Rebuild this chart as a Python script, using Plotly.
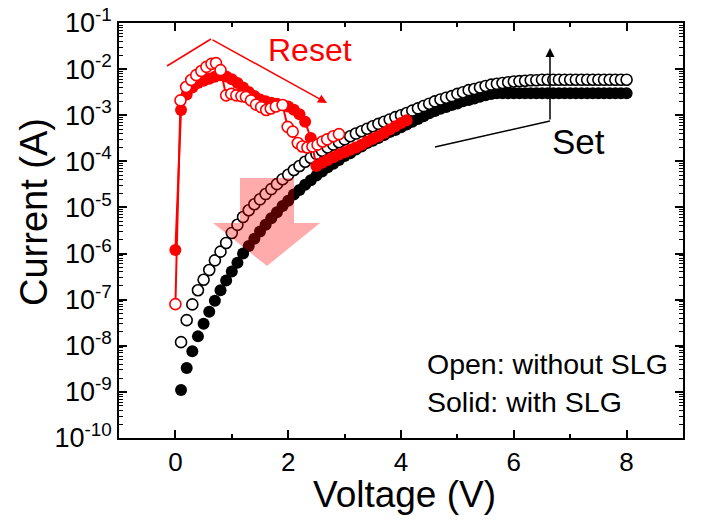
import plotly.graph_objects as go

# ---------------- data ----------------
# with SLG (solid black): set sweep
v_solid_black = [round(0.1 * i, 1) for i in range(1, 81)]
i_solid_black = [
    1.1e-9, 3.3e-9, 7.6e-9, 1.6e-8, 3.0e-8, 5.5e-8, 9.5e-8, 1.6e-7, 2.6e-7, 4.1e-7,
    6.3e-7, 1.0e-6, 1.45e-6, 2.1e-6, 3.0e-6, 4.2e-6, 5.8e-6, 7.9e-6, 1.07e-5, 1.4e-5,
    1.9e-5, 2.4e-5, 3.1e-5, 3.9e-5, 4.9e-5, 6.0e-5, 7.4e-5, 8.9e-5, 1.07e-4, 1.3e-4,
    1.5e-4, 1.8e-4, 2.1e-4, 2.5e-4, 2.8e-4, 3.2e-4, 3.7e-4, 4.3e-4, 4.8e-4, 5.5e-4,
    6.3e-4, 7.2e-4, 8.3e-4, 9.5e-4, 1.1e-3, 1.23e-3, 1.38e-3, 1.5e-3, 1.66e-3, 1.8e-3,
    2.0e-3, 2.14e-3, 2.3e-3, 2.5e-3, 2.7e-3, 2.9e-3, 3.0e-3, 3.0e-3, 3.0e-3, 3.0e-3,
    3.0e-3, 3.0e-3, 3.0e-3, 3.0e-3, 3.0e-3, 3.0e-3, 3.0e-3, 3.0e-3, 3.0e-3, 3.0e-3,
    3.0e-3, 3.0e-3, 3.0e-3, 3.0e-3, 3.0e-3, 3.0e-3, 3.0e-3, 3.0e-3, 3.0e-3, 3.0e-3,
]

# without SLG (open black): set sweep
v_open_black = [round(0.1 * i, 1) for i in range(1, 81)]
i_open_black = [
    1.2e-8, 3.6e-8, 7.9e-8, 1.6e-7, 2.7e-7, 4.4e-7, 7.1e-7, 1.1e-6, 1.7e-6, 2.8e-6,
    4.2e-6, 6.2e-6, 8.7e-6, 1.17e-5, 1.5e-5, 1.95e-5, 2.5e-5, 3.2e-5, 4.1e-5, 5.1e-5,
    6.5e-5, 7.9e-5, 9.8e-5, 1.2e-4, 1.45e-4, 1.7e-4, 2.0e-4, 2.3e-4, 2.6e-4, 3.0e-4,
    3.5e-4, 4.0e-4, 4.5e-4, 5.1e-4, 5.75e-4, 6.5e-4, 7.2e-4, 8.1e-4, 9.1e-4, 1.0e-3,
    1.12e-3, 1.26e-3, 1.41e-3, 1.58e-3, 1.78e-3, 2.0e-3, 2.2e-3, 2.4e-3, 2.6e-3, 2.9e-3,
    3.16e-3, 3.5e-3, 3.7e-3, 4.0e-3, 4.3e-3, 4.6e-3, 4.8e-3, 5.0e-3, 5.2e-3, 5.4e-3,
    5.5e-3, 5.6e-3, 5.75e-3, 5.75e-3, 5.9e-3, 5.9e-3, 5.9e-3, 5.9e-3, 5.9e-3, 5.9e-3,
    5.9e-3, 5.9e-3, 5.9e-3, 5.9e-3, 5.9e-3, 5.9e-3, 5.9e-3, 5.9e-3, 5.9e-3, 5.9e-3,
]

# with SLG (solid red): reset sweep
v_solid_red = [0.0, 0.1, 0.2, 0.3, 0.4, 0.5, 0.6, 0.7, 0.8, 0.9, 1.0, 1.1, 1.2, 1.3,
               1.4, 1.5, 1.6, 1.7, 1.8, 1.9, 2.0, 2.1, 2.2, 2.3, 2.4, 2.5, 2.6, 2.7,
               2.8, 2.9, 3.0, 3.1, 3.2, 3.3, 3.4, 3.5, 3.6, 3.7, 3.8, 3.9, 4.0, 4.1]
i_solid_red = [1.2e-6, 1.3e-3, 2.8e-3, 4.0e-3, 5.0e-3, 5.6e-3, 6.2e-3, 6.8e-3, 7.4e-3,
               6.9e-3, 6.0e-3, 5.0e-3, 4.0e-3, 3.2e-3, 2.6e-3, 2.2e-3, 2.0e-3, 1.86e-3,
               1.78e-3, 1.66e-3, 1.55e-3, 1.32e-3, 1.05e-3, 7.2e-4, 3.2e-4, 7.9e-5,
               9.3e-5, 1.07e-4, 1.23e-4, 1.41e-4, 1.58e-4, 1.78e-4, 2.0e-4, 2.3e-4,
               2.7e-4, 3.1e-4, 3.5e-4, 4.1e-4, 4.9e-4, 5.75e-4, 6.8e-4, 7.8e-4]

# without SLG (open red): reset sweep
v_open_red = [0.0, 0.09, 0.19, 0.28, 0.37, 0.46, 0.55, 0.64, 0.72, 0.80, 0.90, 0.99,
              1.08, 1.17, 1.25, 1.34, 1.43, 1.52, 1.61, 1.69, 1.78, 1.90, 1.99, 2.08,
              2.17, 2.25, 2.34, 2.43, 2.52, 2.61, 2.69, 2.80, 2.90]
i_open_red = [8.0e-8, 2.1e-3, 4.1e-3, 5.8e-3, 7.4e-3, 9.1e-3, 1.12e-2, 1.3e-2, 1.35e-2,
              9.5e-3, 2.7e-3, 2.9e-3, 2.7e-3, 2.6e-3, 2.5e-3, 2.1e-3, 1.7e-3, 1.5e-3,
              1.3e-3, 1.4e-3, 1.55e-3, 1.66e-3, 5.6e-4, 4.4e-4, 2.5e-4, 2.1e-4, 2.0e-4,
              2.1e-4, 2.3e-4, 2.7e-4, 3.0e-4, 3.5e-4, 3.9e-4]

y_tick_vals = [1e-10, 1e-9, 1e-8, 1e-7, 1e-6, 1e-5, 1e-4, 1e-3, 1e-2, 1e-1]
y_tick_text = ["10<sup>-10</sup>", "10<sup>-9</sup>", "10<sup>-8</sup>", "10<sup>-7</sup>",
               "10<sup>-6</sup>", "10<sup>-5</sup>", "10<sup>-4</sup>", "10<sup>-3</sup>",
               "10<sup>-2</sup>", "10<sup>-1</sup>"]
x_tick_vals = [0, 2, 4, 6, 8]

# ---------------- layout geometry ----------------
W, H = 701, 521
ML, MR, MT, MB = 119, 18, 23, 83
PW, PH = W - ML - MR, H - MT - MB


def px(x):
    return (x - ML) / PW


def py(y):
    return (H - MB - y) / PH


FONT = "Liberation Sans, Arial, sans-serif"

fig = go.Figure()
fig.add_trace(go.Scatter(x=v_solid_black, y=i_solid_black, mode="markers",
                         marker=dict(symbol="circle", size=12, color="black",
                                     line=dict(width=0)), showlegend=False))
fig.add_trace(go.Scatter(x=v_open_black, y=i_open_black, mode="markers",
                         marker=dict(symbol="circle", size=11, color="white",
                                     line=dict(width=1.6, color="black")), showlegend=False))
fig.add_trace(go.Scatter(x=v_solid_red, y=i_solid_red, mode="lines+markers",
                         line=dict(color="red", width=2),
                         marker=dict(symbol="circle", size=12, color="red",
                                     line=dict(width=0)), showlegend=False))
fig.add_trace(go.Scatter(x=v_open_red, y=i_open_red, mode="lines+markers",
                         line=dict(color="red", width=2),
                         marker=dict(symbol="circle", size=11, color="white",
                                     line=dict(width=1.6, color="red")), showlegend=False))

shapes = []
# pink arrow
arrow_pts = [(240, 178), (294, 178), (294, 223), (320, 223), (267, 266), (213, 223), (240, 223)]
path = "M " + " L ".join(f"{px(a):.4f},{py(b):.4f}" for a, b in arrow_pts) + " Z"
shapes.append(dict(type="path", path=path, xref="paper", yref="paper",
                   fillcolor="rgba(255,0,0,0.33)", line=dict(width=0), layer="above"))
# Reset bracket
shapes.append(dict(type="line", xref="paper", yref="paper", x0=px(167), y0=py(66),
                   x1=px(211), y1=py(39), line=dict(color="red", width=1.5)))
# Set bracket
shapes.append(dict(type="line", xref="paper", yref="paper", x0=px(435), y0=py(147),
                   x1=px(550), y1=py(121), line=dict(color="black", width=1.5)))

annotations = [
    dict(xref="paper", yref="paper", x=px(327), y=py(103), ax=211 - 327, ay=39 - 103,
         axref="pixel", ayref="pixel", showarrow=True, arrowhead=2, arrowsize=1.2,
         arrowwidth=1.5, arrowcolor="red", text=""),
    dict(xref="paper", yref="paper", x=px(550), y=py(48), ax=0, ay=121 - 48,
         showarrow=True, arrowhead=2, arrowsize=1.2, arrowwidth=1.5,
         arrowcolor="black", text=""),
    dict(xref="paper", yref="paper", x=px(310), y=py(50), text="Reset", showarrow=False,
         font=dict(family=FONT, size=32, color="red"), xanchor="center", yanchor="middle"),
    dict(xref="paper", yref="paper", x=px(578), y=py(141), text="Set", showarrow=False,
         font=dict(family=FONT, size=35, color="black"), xanchor="center", yanchor="middle"),
    dict(xref="paper", yref="paper", x=px(425), y=py(364), text="Open: without SLG",
         showarrow=False, font=dict(family=FONT, size=28.5, color="black"),
         xanchor="left", yanchor="middle"),
    dict(xref="paper", yref="paper", x=px(425), y=py(402), text="Solid: with SLG",
         showarrow=False, font=dict(family=FONT, size=28.5, color="black"),
         xanchor="left", yanchor="middle"),
    dict(xref="paper", yref="paper", x=px(404), y=py(494), text="Voltage (V)",
         showarrow=False, font=dict(family=FONT, size=37, color="black"),
         xanchor="center", yanchor="middle"),
    dict(xref="paper", yref="paper", x=px(34), y=py(212), text="Current (A)",
         showarrow=False, font=dict(family=FONT, size=38, color="black"),
         textangle=-90, xanchor="center", yanchor="middle"),
]

axis_common = dict(showgrid=False, zeroline=False, showline=True, linecolor="black",
                   linewidth=1.5, mirror="ticks", ticks="inside", tickcolor="black",
                   tickwidth=1.5, ticklen=8, automargin=False, ticklabeloverflow="allow")

fig.update_layout(
    width=W, height=H,
    margin=dict(l=ML, r=MR, t=MT, b=MB, pad=0),
    paper_bgcolor="white", plot_bgcolor="white",
    font=dict(family=FONT, color="black"),
    shapes=shapes, annotations=annotations,
    xaxis=dict(range=[-1, 9], tickmode="array", tickvals=x_tick_vals,
               tickfont=dict(family=FONT, size=26, color="black"),
               minor=dict(ticks="inside", dtick=1, ticklen=4, tickwidth=1.5,
                          tickcolor="black", showgrid=False),
               **axis_common),
    yaxis=dict(type="log", range=[-10, -1], tickmode="array", tickvals=y_tick_vals,
               ticktext=y_tick_text,
               tickfont=dict(family=FONT, size=27, color="black"),
               minor=dict(ticks="inside", dtick="D1", ticklen=4, tickwidth=1,
                          tickcolor="black", showgrid=False),
               **axis_common),
)

# remove the browser's default 8px body margin so the figure starts at (0, 0)
fig.write_html("out.html", config={"displayModeBar": False},
               post_script="document.body.style.margin='0';")
